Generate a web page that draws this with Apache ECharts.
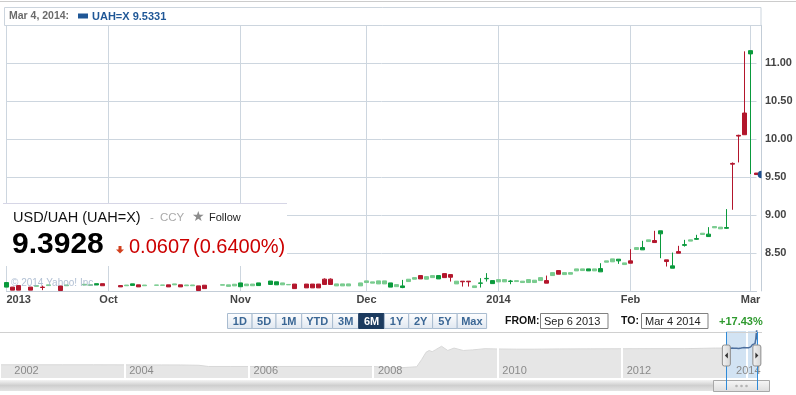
<!DOCTYPE html>
<html><head><meta charset="utf-8">
<script src="https://cdn.jsdelivr.net/npm/echarts@6/dist/echarts.min.js"></script>
<style>html,body{margin:0;padding:0;background:#fff}#c{width:796px;height:395px}</style>
</head><body><div id="c"></div>
<script>
// ---- main candlestick data (USD/UAH, daily, Sep 6 2013 - Mar 4 2014) ----
const dates = [
'2013-09-06','2013-09-09','2013-09-10','2013-09-11','2013-09-12','2013-09-13','2013-09-16','2013-09-17','2013-09-18','2013-09-19','2013-09-20','2013-09-23','2013-09-24','2013-09-25','2013-09-26','2013-09-27','2013-09-30',
'2013-10-01','2013-10-02','2013-10-03','2013-10-04','2013-10-07','2013-10-08','2013-10-09','2013-10-10','2013-10-11','2013-10-14','2013-10-15','2013-10-16','2013-10-17','2013-10-18','2013-10-21','2013-10-22','2013-10-23','2013-10-24','2013-10-25','2013-10-28','2013-10-29','2013-10-30','2013-10-31',
'2013-11-01','2013-11-04','2013-11-05','2013-11-06','2013-11-07','2013-11-08','2013-11-11','2013-11-12','2013-11-13','2013-11-14','2013-11-15','2013-11-18','2013-11-19','2013-11-20','2013-11-21','2013-11-22','2013-11-25','2013-11-26','2013-11-27','2013-11-28','2013-11-29',
'2013-12-02','2013-12-03','2013-12-04','2013-12-05','2013-12-06','2013-12-09','2013-12-10','2013-12-11','2013-12-12','2013-12-13','2013-12-16','2013-12-17','2013-12-18','2013-12-19','2013-12-20','2013-12-23','2013-12-24','2013-12-26','2013-12-27','2013-12-30','2013-12-31',
'2014-01-02','2014-01-03','2014-01-06','2014-01-07','2014-01-08','2014-01-09','2014-01-10','2014-01-13','2014-01-14','2014-01-15','2014-01-16','2014-01-17','2014-01-20','2014-01-21','2014-01-22','2014-01-23','2014-01-24','2014-01-27','2014-01-28','2014-01-29','2014-01-30','2014-01-31',
'2014-02-03','2014-02-04','2014-02-05','2014-02-06','2014-02-07','2014-02-10','2014-02-11','2014-02-12','2014-02-13','2014-02-14','2014-02-17','2014-02-18','2014-02-19','2014-02-20','2014-02-21','2014-02-24','2014-02-25','2014-02-26','2014-02-27','2014-02-28',
'2014-03-03','2014-03-04'];
const opens = [8.05,8.05,8.07,null,8.05,8.07,8.05,8.07,null,8.065,8.068,null,null,8.077,8.082,8.078,8.095,null,null,8.07,8.077,8.072,8.08,8.077,null,8.074,8.074,8.08,8.08,8.08,8.068,8.068,8.066,8.075,null,null,8.075,8.08,8.066,8.055,8.09,8.09,8.07,null,8.085,8.08,8.105,8.085,8.09,null,8.09,8.09,8.09,8.155,8.155,8.092,8.066,8.066,null,8.066,8.132,8.119,8.092,8.132,8.05,8.056,8.044,8.123,8.154,8.202,8.188,8.202,8.158,8.228,8.215,8.092,8.128,8.128,8.044,8.10,8.16,8.096,8.149,8.119,8.125,8.123,8.11,8.149,8.141,8.175,8.136,8.241,8.268,8.241,8.22,8.29,8.29,8.264,8.29,8.251,8.378,8.383,8.396,8.347,8.396,8.571,8.541,8.65,8.664,8.752,8.409,8.299,8.518,8.60,8.656,8.68,8.76,8.716,8.848,8.818,8.825,9.68,10.05,10.344,11.123,9.553];
const closes = [8.11,8.01,8.01,null,8.01,8.06,8.045,8.08,null,8.005,8.078,null,null,8.087,8.072,8.095,8.068,null,null,8.053,8.068,8.093,8.053,8.068,null,8.078,8.078,8.053,8.092,8.053,8.078,8.078,8.005,8.03,null,null,8.082,8.06,8.088,8.105,8.068,8.068,8.105,null,8.13,8.12,8.08,8.08,8.03,null,8.04,8.04,8.04,8.085,8.085,8.066,8.092,8.092,null,8.105,8.11,8.102,8.132,8.092,8.105,8.083,8.066,8.154,8.175,8.158,8.154,8.175,8.202,8.175,8.18,8.128,8.12,8.12,8.066,8.105,8.165,8.136,8.119,8.149,8.13,8.135,8.128,8.11,8.11,8.136,8.102,8.202,8.22,8.215,8.241,8.264,8.268,8.29,8.264,8.294,8.396,8.422,8.418,8.369,8.365,8.545,8.571,8.673,8.637,8.792,8.387,8.33,8.497,8.61,8.673,8.69,8.743,8.748,8.831,8.84,8.835,9.67,10.04,10.058,11.166,9.5331];
const lows = [8.05,8.01,8.01,null,8.01,8.06,8.01,8.07,null,8.005,8.068,null,null,8.077,8.072,8.078,8.068,null,null,8.053,8.068,8.072,8.053,8.068,null,8.074,8.074,8.053,8.08,8.053,8.068,8.068,8.005,8.03,null,null,8.075,8.06,8.066,8.055,8.068,8.068,8.07,null,8.085,8.08,8.08,8.08,8.03,null,8.04,8.04,8.04,8.085,8.085,8.066,8.066,8.066,null,8.066,8.11,8.102,8.092,8.092,8.05,8.056,8.036,8.123,8.154,8.158,8.154,8.175,8.158,8.175,8.123,8.092,8.057,8.057,8.044,8.044,8.123,8.096,8.119,8.119,8.088,8.123,8.11,8.11,8.11,8.136,8.102,8.202,8.22,8.215,8.22,8.264,8.268,8.264,8.264,8.251,8.378,8.383,8.356,8.347,8.365,8.545,8.541,8.65,8.637,8.431,8.321,8.299,8.497,8.584,8.656,8.673,8.743,8.716,8.831,8.818,8.818,9.069,9.693,10.058,9.54,9.5331];
const highs = [8.11,8.05,8.07,null,8.05,8.07,8.07,8.08,null,8.065,8.078,null,null,8.087,8.082,8.095,8.095,null,null,8.07,8.077,8.093,8.08,8.077,null,8.078,8.078,8.08,8.092,8.08,8.078,8.078,8.066,8.075,null,null,8.082,8.08,8.088,8.105,8.09,8.09,8.105,null,8.13,8.12,8.105,8.085,8.09,null,8.09,8.09,8.09,8.165,8.165,8.092,8.092,8.092,null,8.105,8.132,8.119,8.132,8.132,8.105,8.083,8.145,8.154,8.175,8.202,8.188,8.202,8.202,8.228,8.215,8.128,8.128,8.128,8.066,8.168,8.234,8.136,8.149,8.149,8.145,8.135,8.128,8.149,8.141,8.175,8.202,8.241,8.268,8.241,8.241,8.29,8.29,8.29,8.29,8.365,8.396,8.422,8.418,8.369,8.55,8.571,8.66,8.673,8.792,8.792,8.409,8.505,8.594,8.673,8.673,8.739,8.76,8.84,8.848,8.84,9.078,9.693,10.058,11.157,11.166,9.553];
// month tick positions on the category axis and their texts
const tickIndex = [0, 17, 39, 60, 82, 104, 124];
const tickText = ['2013', 'Oct', 'Nov', 'Dec', '2014', 'Feb', 'Mar'];
// ---- navigator (long-term history, fractional years) ----
const navYears  = [2002.0,2002.5,2003.0,2003.5,2004.0,2004.3,2004.6,2004.9,2005.2,2005.35,2005.7,2006.0,2006.5,2007.0,2007.5,2008.0,2008.3,2008.45,2008.7,2008.78,2008.85,2008.9,2008.95,2009.0,2009.1,2009.2,2009.3,2009.45,2009.6,2009.8,2010.0,2010.3,2010.6,2011.0,2011.5,2012.0,2012.5,2013.0,2013.5,2013.68];
const navValues = [5.33,5.33,5.33,5.33,5.32,5.31,5.31,5.30,5.25,5.05,5.05,5.05,5.05,5.05,5.05,5.05,4.85,4.85,5.0,6.2,7.4,7.7,7.5,7.8,8.4,7.7,8.1,7.7,7.8,8.0,7.95,7.92,7.92,7.96,7.97,7.99,8.0,8.0,8.1,8.1];
const rangeLabels = ['1D','5D','1M','YTD','3M','6M','1Y','2Y','5Y','Max'];
const selectedRange = '6M';
const changeText = '+17.43%';
const quoteName = 'USD/UAH (UAH=X)';
const quotePrice = '9.3928', quoteChange = '0.0607', quotePct = '(0.6400%)';
// style: candles drawn in the pale tone in the original picture
const paleIdx = [5,7,10,13,14,20,23,25,26,28,30,31,36,37,38,40,41,46,47,55,56,57,59,60,61,62,63,65,67,68,70,71,75,78,82,83,85,86,87,88,89,91,93,94,95,96,98,100,101,103,105,107,114,116,118,119];

const monthNames = ['Jan','Feb','Mar','Apr','May','Jun','Jul','Aug','Sep','Oct','Nov','Dec'];
function parts(d){ return d.split('-').map(Number); }
function toYear(d){ const [Y,M,D] = parts(d); const t = Date.UTC(Y,M-1,D), a = Date.UTC(Y,0,1), b = Date.UTC(Y+1,0,1); return Y + (t-a)/(b-a); }
function fmt(d, comma){ const [Y,M,D] = parts(d); return monthNames[M-1] + ' ' + D + (comma ? ', ' : ' ') + Y; }

const UP = '#0a9a3c', DOWN = '#b3162c', UP_PALE = '#78cb8e', DOWN_PALE = '#da8894';
const candleData = dates.map((d,i) => {
  if (opens[i] == null) return ['-','-','-','-'];
  const v = [opens[i], closes[i], lows[i], highs[i]];
  if (paleIdx.indexOf(i) < 0) return v;
  return {value: v, itemStyle: {color: UP_PALE, color0: DOWN_PALE, borderColor: UP_PALE, borderColor0: DOWN_PALE}};
});
const lastIdx = dates.length - 1;
const lastClose = closes[lastIdx];
const startYear = toYear(dates[0]), endYear = toYear(dates[lastIdx]);
const tailData = dates.map((d,i) => closes[i] == null ? null : [toYear(d), closes[i]]).filter(Boolean);

const FONT = 'Arial, "Liberation Sans", sans-serif';
const grid = '#cdd6df', axisC = '#c3cdd7';
const isTick = (i) => tickIndex.indexOf(i) >= 0;

const chart = echarts.init(document.getElementById('c'));
chart.setOption({
  animation: false,
  grid: [
    {left: 6.5, top: 25.3, width: 750, height: 265.6},
    {left: -5.25, top: 331, width: 767.1, height: 47}
  ],
  xAxis: [
    {type: 'category', gridIndex: 0, data: dates, boundaryGap: false,
     axisLine: {lineStyle: {color: axisC}}, axisTick: {show: false},
     axisLabel: {interval: (i) => isTick(i), formatter: (v, i) => tickText[tickIndex.indexOf(i)],
                 color: '#444', fontWeight: 'bold', fontSize: 11, fontFamily: FONT, margin: 4, alignMinLabel: 'left'},
     splitLine: {show: true, interval: (i) => isTick(i), lineStyle: {color: grid}}},
    {type: 'value', gridIndex: 1, min: 2002, max: 2014.25, interval: 2, z: 3,
     axisLine: {show: false}, axisTick: {show: false},
     splitLine: {show: true, lineStyle: {color: '#ffffff', width: 2}},
     axisLabel: {inside: true, margin: 2, showMinLabel: true, showMaxLabel: false,
       formatter: (v) => { if (Math.abs(v % 2) > 1e-6) return ''; const r = v === 2002 ? 'c' : (v === 2014 ? 'b' : 'a'); return '{' + r + '|' + v + '}'; },
       rich: {a: {padding: [0,0,0,34], color: '#8a8a8a', fontSize: 11, fontFamily: FONT},
              b: {padding: [0,0,0,4], color: '#8a8a8a', fontSize: 11, fontFamily: FONT},
              c: {padding: [0,0,0,53], color: '#8a8a8a', fontSize: 11, fontFamily: FONT}}}}
  ],
  yAxis: [
    {type: 'value', gridIndex: 0, position: 'right', offset: 4.5, min: 8, max: 11.5, interval: 0.5,
     axisLine: {show: true, lineStyle: {color: axisC}}, axisTick: {show: false},
     axisLabel: {formatter: (v) => v.toFixed(2), showMinLabel: false, showMaxLabel: false,
                 color: '#444', fontWeight: 'bold', fontSize: 11, fontFamily: FONT, margin: 4},
     splitLine: {lineStyle: {color: grid}}},
    {type: 'value', gridIndex: 1, min: 3.14, max: 10.93, show: false}
  ],
  series: [
    {type: 'candlestick', xAxisIndex: 0, yAxisIndex: 0, data: candleData, barWidth: 5, clip: false,
     itemStyle: {color: UP, color0: DOWN, borderColor: UP, borderColor0: DOWN, borderWidth: 1}},
    {type: 'line', xAxisIndex: 1, yAxisIndex: 1, z: 1, showSymbol: false,
     data: navYears.map((y, i) => [y, navValues[i]]),
     lineStyle: {color: '#d8d8d8', width: 1}, areaStyle: {color: '#e6e6e6', opacity: 1},
     markArea: {silent: true, itemStyle: {color: 'rgba(165,200,232,0.5)'}, data: [[{xAxis: startYear}, {xAxis: endYear}]]}},
    {type: 'line', xAxisIndex: 1, yAxisIndex: 1, z: 4, showSymbol: false, data: tailData,
     lineStyle: {color: '#4d6f9e', width: 1.5}}
  ]
});

// ---- UI chrome (header, quote box, buttons, navigator handles) ----
const yLast = chart.convertToPixel({yAxisIndex: 0}, lastClose);
const xs = chart.convertToPixel({xAxisIndex: 1}, startYear);
const xe = chart.convertToPixel({xAxisIndex: 1}, endYear);
const g = [];
g.push({type: 'line', shape: {x1: 0, y1: 1.5, x2: 796, y2: 1.5}, style: {stroke: '#cccccc', lineWidth: 1}, z: 50});
g.push({type: 'rect', shape: {x: 4.5, y: 7.5, width: 756.5, height: 18}, style: {fill: '#fff', stroke: '#ccd5de', lineWidth: 1}, z: 50});
g.push({type: 'text', x: 9, y: 16.5, style: {text: fmt(dates[lastIdx], true) + ':', fill: '#6b6b6b', font: 'bold 10.5px ' + FONT, verticalAlign: 'middle'}, z: 51});
g.push({type: 'rect', shape: {x: 78, y: 13.5, width: 10, height: 5}, style: {fill: '#1f5796'}, z: 51});
g.push({type: 'text', x: 92, y: 16.5, style: {text: 'UAH=X ' + lastClose.toFixed(4), fill: '#1f5796', font: 'bold 11px ' + FONT, verticalAlign: 'middle'}, z: 51});
// quote overlay
g.push({type: 'rect', shape: {x: 0, y: 204, width: 287, height: 62}, style: {fill: '#ffffff'}, z: 60});
g.push({type: 'line', shape: {x1: 3, y1: 203.5, x2: 287, y2: 203.5}, style: {stroke: '#d6d6e6', lineWidth: 1}, z: 61});
g.push({type: 'text', x: 13, y: 218, style: {text: quoteName, fill: '#111', font: '14.5px ' + FONT, verticalAlign: 'middle'}, z: 61});
g.push({type: 'text', x: 150, y: 218, style: {text: '-', fill: '#aaa', font: '11.5px ' + FONT, verticalAlign: 'middle'}, z: 61});
g.push({type: 'text', x: 160, y: 218, style: {text: 'CCY', fill: '#aaa', font: '11.5px ' + FONT, verticalAlign: 'middle'}, z: 61});
g.push({type: 'text', x: 192, y: 217, style: {text: '\u2605', fill: '#8c8c8c', font: '14px "DejaVu Sans"', verticalAlign: 'middle'}, z: 61});
g.push({type: 'text', x: 209, y: 218, style: {text: 'Follow', fill: '#222', font: '11px ' + FONT, verticalAlign: 'middle'}, z: 61});
g.push({type: 'text', x: 12, y: 244.5, style: {text: quotePrice, fill: '#000', font: 'bold 30px ' + FONT, verticalAlign: 'middle'}, z: 61});
g.push({type: 'polygon', shape: {points: [[118.5,246],[121.5,246],[121.5,249.5],[124,249.5],[120,253.5],[116,249.5],[118.5,249.5]]}, style: {fill: '#d2401e'}, z: 61});
g.push({type: 'text', x: 129, y: 247.5, style: {text: quoteChange, fill: '#cc0000', font: '20px ' + FONT, verticalAlign: 'middle'}, z: 61});
g.push({type: 'text', x: 193, y: 247.5, style: {text: quotePct, fill: '#cc0000', font: '20px ' + FONT, verticalAlign: 'middle'}, z: 61});
g.push({type: 'text', x: 11, y: 283, style: {text: '\u00a9 2014 Yahoo! Inc.', fill: 'rgba(150,170,196,0.75)', font: '10px ' + FONT, verticalAlign: 'middle'}, z: 62});
// last value marker on the axis
g.push({type: 'sector', shape: {cx: 761.5, cy: yLast, r0: 0, r: 3.8, startAngle: Math.PI / 2, endAngle: Math.PI * 1.5}, style: {fill: '#1f4e8c'}, z: 70});
// range buttons
const bw = [24.6, 23.9, 25.7, 30.9, 26.1, 25.7, 24.3, 23.9, 24.6, 29.4];
let bx = 227.5;
rangeLabels.forEach((t, i) => {
  const sel = t === selectedRange;
  g.push({type: 'rect', shape: {x: bx, y: 313.5, width: bw[i], height: 15},
    style: {fill: sel ? '#1c3b5f' : new echarts.graphic.LinearGradient(0,0,0,1,[{offset:0,color:'#ffffff'},{offset:1,color:'#dfe7f0'}]), stroke: sel ? '#1c3b5f' : '#a9bcd0', lineWidth: 1}, z: 50});
  g.push({type: 'text', x: bx + bw[i] / 2, y: 321.5, style: {text: t, fill: sel ? '#ffffff' : '#3b6795', font: 'bold 11px ' + FONT, align: 'center', verticalAlign: 'middle'}, z: 51});
  bx += bw[i];
});
g.push({type: 'text', x: 505, y: 321.5, style: {text: 'FROM:', fill: '#111', font: 'bold 10.5px ' + FONT, verticalAlign: 'middle'}, z: 51});
g.push({type: 'rect', shape: {x: 540.5, y: 313.5, width: 67.5, height: 15}, style: {fill: '#fff', stroke: '#808080', lineWidth: 1}, z: 50});
g.push({type: 'text', x: 544, y: 321.5, style: {text: fmt(dates[0], false), fill: '#222', font: '11px ' + FONT, verticalAlign: 'middle'}, z: 51});
g.push({type: 'text', x: 621, y: 321.5, style: {text: 'TO:', fill: '#111', font: 'bold 10.5px ' + FONT, verticalAlign: 'middle'}, z: 51});
g.push({type: 'rect', shape: {x: 641.5, y: 313.5, width: 66.5, height: 15}, style: {fill: '#fff', stroke: '#808080', lineWidth: 1}, z: 50});
g.push({type: 'text', x: 645, y: 321.5, style: {text: fmt(dates[lastIdx], false), fill: '#222', font: '11px ' + FONT, verticalAlign: 'middle'}, z: 51});
g.push({type: 'text', x: 719, y: 321.5, style: {text: changeText, fill: '#2f9a2f', font: 'bold 11px ' + FONT, verticalAlign: 'middle'}, z: 51});
g.push({type: 'line', shape: {x1: 0, y1: 332.5, x2: 762, y2: 332.5}, style: {stroke: '#d0d0d0', lineWidth: 1}, z: 50});
// scrollbar
g.push({type: 'rect', shape: {x: 0, y: 380, width: 762, height: 11}, style: {fill: new echarts.graphic.LinearGradient(0,0,0,1,[{offset:0,color:'#f4f4f4'},{offset:0.5,color:'#cfcfcf'},{offset:1,color:'#e4e4e4'}])}, z: 50});
g.push({type: 'rect', shape: {x: 713.5, y: 380.5, width: 56, height: 11}, style: {fill: new echarts.graphic.LinearGradient(0,0,0,1,[{offset:0,color:'#f7f7f7'},{offset:1,color:'#dcdcdc'}]), stroke: '#a8a8a8', lineWidth: 1}, z: 51});
[-5, 0, 5].forEach(d => g.push({type: 'circle', shape: {cx: 741.5 + d, cy: 386, r: 1.3}, style: {fill: '#b4b4b4'}, z: 52}));
// navigator selection edges and handles
[xs, xe].forEach((x, k) => {
  g.push({type: 'line', shape: {x1: Math.round(x) + 0.5, y1: 332, x2: Math.round(x) + 0.5, y2: 390}, style: {stroke: '#2f8ad8', lineWidth: 1}, z: 55});
  g.push({type: 'rect', shape: {x: x - 4, y: 345, width: 8, height: 21, r: 2}, style: {fill: new echarts.graphic.LinearGradient(0,0,1,0,[{offset:0,color:'#f4f4f4'},{offset:1,color:'#d4d4d4'}]), stroke: '#8e8e8e', lineWidth: 1}, z: 56});
  const ax = x, ay = 355.5;
  g.push({type: 'polygon', shape: {points: k === 0 ? [[ax+1.5,ay-3],[ax+1.5,ay+3],[ax-1.5,ay]] : [[ax-1.5,ay-3],[ax-1.5,ay+3],[ax+1.5,ay]]}, style: {fill: '#333'}, z: 57});
});
chart.setOption({graphic: g});
</script>
</body></html>
